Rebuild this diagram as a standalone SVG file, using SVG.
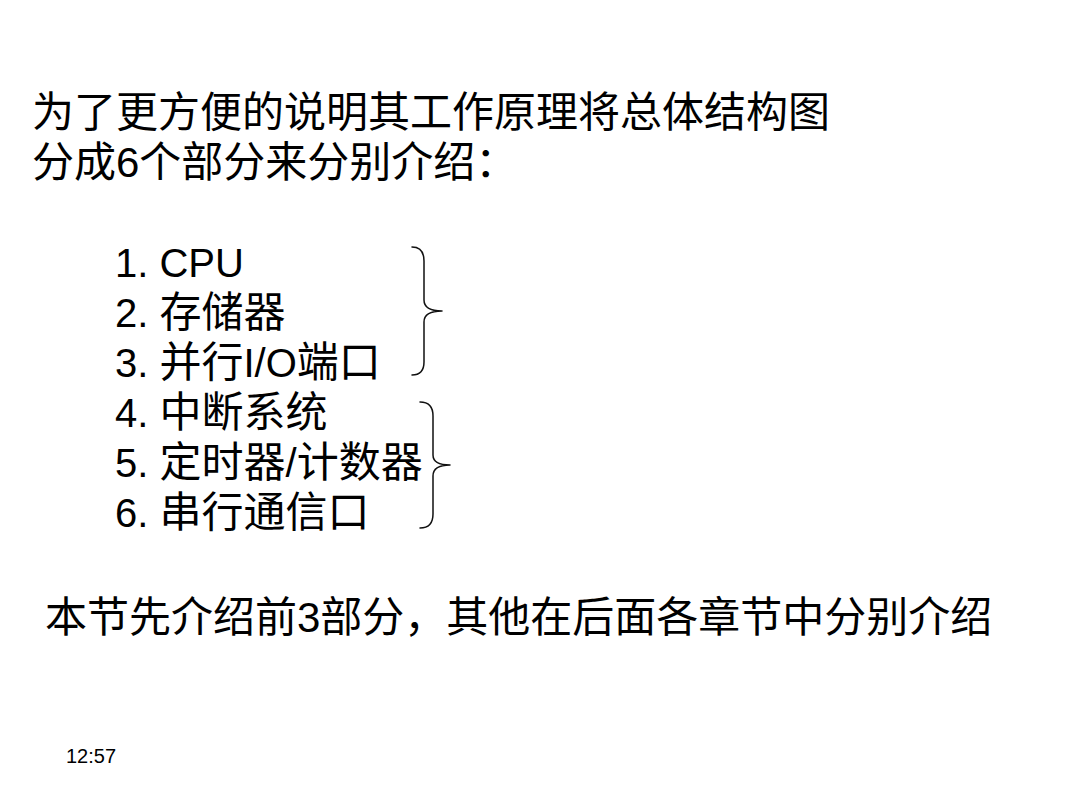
<svg xmlns="http://www.w3.org/2000/svg" width="1080" height="810" viewBox="0 0 1080 810">
<style>
text{font-family:"Liberation Sans","Noto Sans CJK SC",sans-serif;fill:#000}
.t{font-size:42px}
.l{font-size:40px}
.c{font-size:42px}
.s{font-size:20px}
.b{fill:none;stroke:#111;stroke-width:1.5;stroke-linecap:round;stroke-linejoin:round}
</style>
<rect width="1080" height="810" fill="#fff"/>
<g id="title">
<text class="t" x="32" y="127">为了更方便的说明其工作原理将总体结构图</text>
<text class="t" x="32" y="177">分成6个部分来分别介绍：</text>
</g>
<g id="list">
<text class="l" x="115" y="277">1. CPU</text>
<text class="l" x="115" y="327">2. <tspan class="c">存储器</tspan></text>
<text class="l" x="115" y="377">3. <tspan class="c">并行</tspan>I/O<tspan class="c">端口</tspan></text>
<text class="l" x="115" y="427">4. <tspan class="c">中断系统</tspan></text>
<text class="l" x="115" y="477">5. <tspan class="c">定时器</tspan>/<tspan class="c">计数器</tspan></text>
<text class="l" x="115" y="527">6. <tspan class="c">串行通信口</tspan></text>
</g>
<g id="braces">
<path class="b" d="M412,247 Q424,247 424,261 L424,300 Q424,311 442,311 Q424,311 424,322 L424,362 Q424,375 412,375"/>
<path class="b" d="M420,402 Q433,402 433,416 L433,455 Q433,465 450,465 Q433,465 433,476 L433,514 Q433,528 420,528"/>
</g>
<g id="summary">
<text class="t" x="45" y="632">本节先介绍前3部分，其他在后面各章节中分别介绍</text>
</g>
<g id="time">
<text class="s" x="66" y="763">12:57</text>
</g>
</svg>
